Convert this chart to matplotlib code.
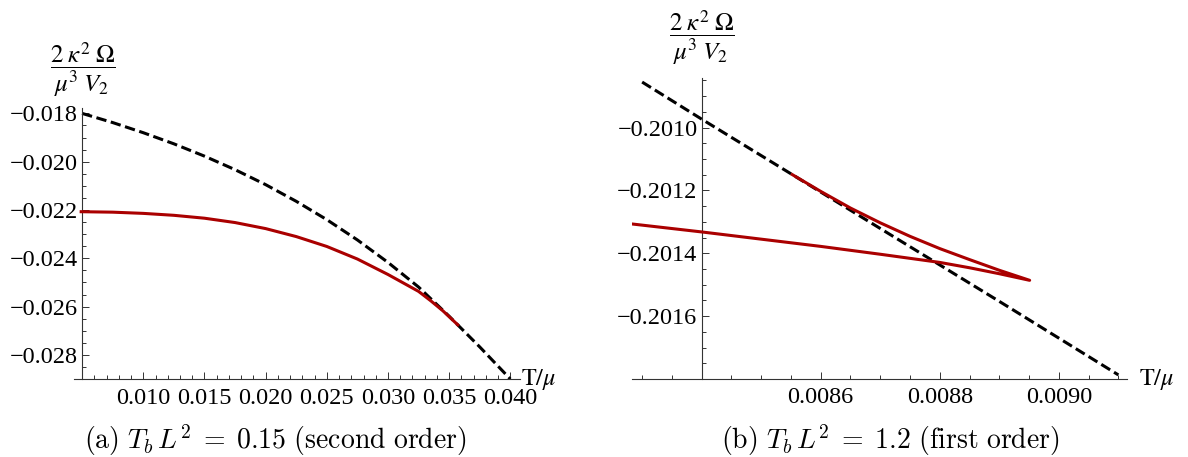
import numpy as np
import matplotlib
matplotlib.use("Agg")
import matplotlib.pyplot as plt
from matplotlib.ticker import MultipleLocator, FixedLocator

plt.rcParams['font.family'] = 'serif'
plt.rcParams['font.serif'] = ['Liberation Serif', 'DejaVu Serif']
plt.rcParams['mathtext.fontset'] = 'stix'

# (a) T_b L^2 = 0.15, second order
t_a_dash = [0.005, 0.0075, 0.010, 0.0125, 0.015, 0.0175, 0.020, 0.0225,
            0.025, 0.0275, 0.030, 0.0325, 0.035, 0.0375, 0.040]
om_a_dash = [-0.01800, -0.01838, -0.01880, -0.01926, -0.01977, -0.02033, -0.02095, -0.02164,
             -0.02240, -0.02324, -0.02417, -0.02519, -0.02640, -0.02767, -0.02900]
t_a_red = [0.0048, 0.0075, 0.010, 0.0125, 0.015, 0.0175, 0.020, 0.0225,
           0.025, 0.0275, 0.030, 0.0325, 0.0335, 0.0345, 0.0358]
om_a_red = [-0.02207, -0.02209, -0.02214, -0.02222, -0.02234, -0.02252, -0.02277, -0.02310,
            -0.02351, -0.02403, -0.02467, -0.02537, -0.02576, -0.02618, -0.02680]

# (b) T_b L^2 = 1.2, first order
t_b_dash = [0.0083, 0.0084, 0.0085, 0.0086, 0.0087, 0.0088, 0.0089, 0.0090, 0.0091]
om_b_dash = [-0.200855, -0.200973, -0.201089, -0.201205, -0.201321,
             -0.201437, -0.201553, -0.201670, -0.201787]
t_b_up = [0.00855, 0.00860, 0.00865, 0.00870, 0.00875, 0.00880, 0.00885, 0.00890, 0.008951]
om_b_up = [-0.201147, -0.201203, -0.201256, -0.201303, -0.201346, -0.201385,
           -0.201420, -0.201454, -0.201486]
t_b_low = [0.008951, 0.00890, 0.00885, 0.00880, 0.00870, 0.00860, 0.00850, 0.00840, 0.00828]
om_b_low = [-0.201486, -0.201465, -0.201446, -0.201429, -0.201403, -0.201378,
            -0.201355, -0.201332, -0.201306]

red = '#aa0000'
axcol = '#333333'
dash = (0, (3.4, 1.5))
fs = 17.5

fig = plt.figure(figsize=(11.88, 4.57), dpi=100)
ax1 = fig.add_axes([0.0622, 0.170, 0.3752, 0.593])
ax2 = fig.add_axes([0.532, 0.1707, 0.4169, 0.658])


def style(ax, x0):
    for s in ['top', 'right']:
        ax.spines[s].set_visible(False)
    ax.spines['left'].set_position(('data', x0))
    for s in ['left', 'bottom']:
        ax.spines[s].set_color(axcol)
        ax.spines[s].set_linewidth(0.8)
    ax.tick_params(which='both', direction='in', color=axcol, width=0.7, labelsize=fs)
    ax.tick_params(which='major', length=5)
    ax.tick_params(which='minor', length=2.8)
    ax.tick_params(axis='x', pad=6)
    ax.tick_params(axis='y', pad=3)


# panel a
ax1.plot(t_a_dash, om_a_dash, color='black', lw=2.2, linestyle=dash, zorder=2)
ax1.plot(t_a_red, om_a_red, color=red, lw=2.2, solid_capstyle='butt', zorder=3)
ax1.set_xlim(0.00433, 0.04076)
ax1.set_ylim(-0.02901, -0.01779)
style(ax1, 0.005)
ax1.xaxis.set_major_locator(FixedLocator([0.010, 0.015, 0.020, 0.025, 0.030, 0.035, 0.040]))
ax1.xaxis.set_minor_locator(MultipleLocator(0.001))
ax1.yaxis.set_major_locator(FixedLocator([-0.028, -0.026, -0.024, -0.022, -0.020, -0.018]))
ax1.yaxis.set_minor_locator(MultipleLocator(0.0005))
ax1.set_xticklabels(['0.010', '0.015', '0.020', '0.025', '0.030', '0.035', '0.040'])
ax1.set_yticklabels(['\u22120.028', '\u22120.026', '\u22120.024', '\u22120.022', '\u22120.020', '\u22120.018'])

# panel b
ax2.plot(t_b_dash, om_b_dash, color='black', lw=2.2, linestyle=dash, zorder=2)
ax2.plot(t_b_up + t_b_low, om_b_up + om_b_low, color=red, lw=2.2,
         solid_capstyle='butt', zorder=3)
ax2.set_xlim(0.008283, 0.009115)
ax2.set_ylim(-0.20180, -0.200843)
style(ax2, 0.0084)
ax2.xaxis.set_major_locator(FixedLocator([0.0086, 0.0088, 0.0090]))
ax2.xaxis.set_minor_locator(MultipleLocator(0.00005))
ax2.yaxis.set_major_locator(FixedLocator([-0.2016, -0.2014, -0.2012, -0.2010]))
ax2.yaxis.set_minor_locator(MultipleLocator(0.00005))
ax2.set_xticklabels(['0.0086', '0.0088', '0.0090'])
ax2.set_yticklabels(['\u22120.2016', '\u22120.2014', '\u22120.2012', '\u22120.2010'])

# axis labels, mathematica style
ylab = r'$\dfrac{2\;\kappa^2\;\Omega}{\mu^3\;V_2}$'
fig.text(82.5 / 1188, 1 - 70 / 457, ylab, ha='center', va='center', fontsize=18)
fig.text(702 / 1188, 1 - 38 / 457, ylab, ha='center', va='center', fontsize=18)
fig.text(521 / 1188, 1 - 379 / 457, r'$\mathrm{T}/\mu$', ha='left', va='center', fontsize=fs)
fig.text(1139 / 1188, 1 - 379 / 457, r'$\mathrm{T}/\mu$', ha='left', va='center', fontsize=fs)

# captions
fig.text(275 / 1188, 1 - 440 / 457,
         r'$\mathrm{(a)}\ T_b\,L^2\;=\;0.15\ \mathrm{(second\ order)}$',
         ha='center', va='center', fontsize=20, math_fontfamily='cm')
fig.text(890 / 1188, 1 - 440 / 457,
         r'$\mathrm{(b)}\ T_b\,L^2\;=\;1.2\ \mathrm{(first\ order)}$',
         ha='center', va='center', fontsize=20, math_fontfamily='cm')

fig.savefig('out.png', dpi=100)
